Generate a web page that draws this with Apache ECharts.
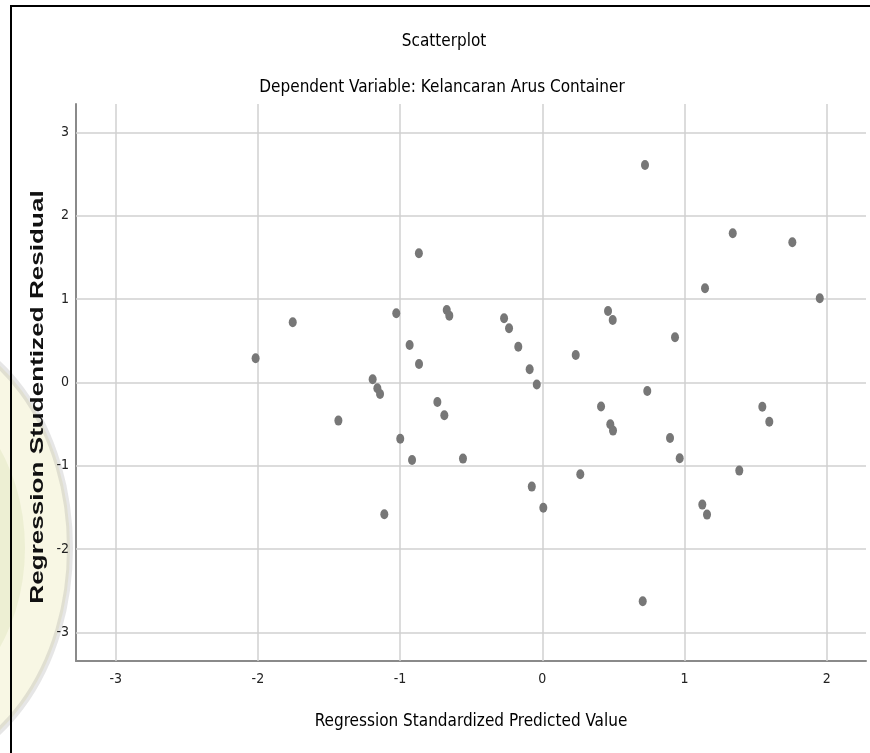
<!DOCTYPE html>
<html>
<head>
<meta charset="utf-8">
<script src="https://cdn.jsdelivr.net/npm/echarts@6/dist/echarts.min.js"></script>
<style>
html,body{margin:0;padding:0;background:#fff;}
#chart{width:870px;height:753px;}
</style>
</head>
<body>
<div id="chart"></div>
<script>
const titleText = 'Scatterplot';
const subtitleText = 'Dependent Variable: Kelancaran Arus Container';
const xAxisName = 'Regression Standardized Predicted Value';
const yAxisName = 'Regression Studentized Residual';
const xTicks = [-3, -2, -1, 0, 1, 2];
const yTicks = [-3, -2, -1, 0, 1, 2, 3];
const predicted = [-2.016, -1.755, -1.434, -1.193, -1.160, -1.141, -1.111, -1.027, -0.999, -0.933,
  -0.916, -0.868, -0.867, -0.738, -0.689, -0.672, -0.654, -0.558, -0.269, -0.234,
  -0.169, -0.089, -0.074, -0.039, 0.007, 0.235, 0.267, 0.413, 0.462, 0.478,
  0.495, 0.497, 0.706, 0.722, 0.738, 0.898, 0.933, 0.966, 1.125, 1.144,
  1.158, 1.339, 1.385, 1.547, 1.596, 1.758, 1.951];
const residual = [0.288, 0.720, -0.460, 0.036, -0.072, -0.140, -1.584, 0.828, -0.677, 0.448,
  -0.932, 1.548, 0.220, -0.236, -0.396, 0.868, 0.800, -0.916, 0.768, 0.648,
  0.427, 0.156, -1.252, -0.027, -1.505, 0.328, -1.104, -0.290, 0.856, -0.504,
  0.748, -0.580, -2.628, 2.608, -0.104, -0.668, 0.540, -0.912, -1.468, 1.128,
  -1.588, 1.788, -1.060, -0.293, -0.473, 1.680, 1.008];

const points = predicted.map((v, i) => [v, residual[i]]);
const narrow = "'Liberation Sans Narrow', 'Arial Narrow', 'DejaVu Sans Condensed', sans-serif";
const gridLines = xTicks.map(v => ({ xAxis: v })).concat(yTicks.map(v => ({ yAxis: v })));

const chart = echarts.init(document.getElementById('chart'), null, { renderer: 'canvas' });
chart.setOption({
  backgroundColor: '#ffffff',
  animation: false,
  title: [
    { text: titleText, left: 444, top: 33, textAlign: 'center', padding: 0,
      textStyle: { fontFamily: narrow, fontSize: 17, fontWeight: 'normal', color: '#000' } },
    { text: subtitleText, left: 442, top: 79, textAlign: 'center', padding: 0,
      textStyle: { fontFamily: narrow, fontSize: 17, fontWeight: 'normal', color: '#000' } }
  ],
  graphic: [
    { type: 'circle', z: -10, silent: true, x: -95, y: 548, scaleY: 1.35,
      shape: { cx: 0, cy: 0, r: 165 },
      style: { fill: 'rgba(214,210,105,0.18)', stroke: 'rgba(140,140,140,0.22)', lineWidth: 6 } },
    { type: 'circle', z: -9, silent: true, x: -95, y: 548, scaleY: 1.35,
      shape: { cx: 0, cy: 0, r: 120 },
      style: { fill: 'rgba(150,175,70,0.10)' } },
    { type: 'line', shape: { x1: 11, y1: 6, x2: 11, y2: 753 }, style: { stroke: '#000', lineWidth: 2 }, z: 100 },
    { type: 'line', shape: { x1: 10, y1: 6, x2: 870, y2: 6 }, style: { stroke: '#000', lineWidth: 2 }, z: 100 },
    { type: 'text', x: 38, y: 397, rotation: Math.PI / 2, scaleX: 1.45, z: 100,
      style: { text: yAxisName, fontFamily: "'Liberation Sans', Arial, sans-serif", fontSize: 18,
        fontWeight: 'bold', fill: '#111', align: 'center', verticalAlign: 'middle',
        textAlign: 'center', textVerticalAlign: 'middle' } }
  ],
  grid: { left: 76, top: 104, right: 4, bottom: 92, containLabel: false },
  xAxis: {
    type: 'value', min: -3.279, max: 2.276,
    name: xAxisName, nameLocation: 'middle', nameGap: 52,
    nameTextStyle: { fontFamily: narrow, fontSize: 17, color: '#000' },
    axisLine: { show: true, onZero: false, lineStyle: { color: '#8a8a8a', width: 2 } },
    axisTick: { show: false },
    splitLine: { show: false },
    axisLabel: { customValues: xTicks, margin: 11, fontFamily: narrow, fontSize: 14, color: '#222' }
  },
  yAxis: {
    type: 'value', min: -3.345, max: 3.34,
    axisLine: { show: true, onZero: false, lineStyle: { color: '#8a8a8a', width: 2 } },
    axisTick: { show: false },
    splitLine: { show: false },
    axisLabel: { customValues: yTicks, margin: 7, fontFamily: narrow, fontSize: 14, color: '#222' }
  },
  series: [
    {
      type: 'scatter', data: [], silent: true, z: 1,
      markLine: {
        silent: true, symbol: ['none', 'none'], label: { show: false },
        lineStyle: { color: '#d0d0d0', width: 1.5, type: 'solid' },
        emphasis: { disabled: true },
        data: gridLines
      }
    },
    {
      type: 'scatter', data: points, z: 5,
      symbol: 'circle', symbolSize: [8, 10],
      itemStyle: { color: '#777777', opacity: 1 }
    }
  ]
});
</script>
</body>
</html>
